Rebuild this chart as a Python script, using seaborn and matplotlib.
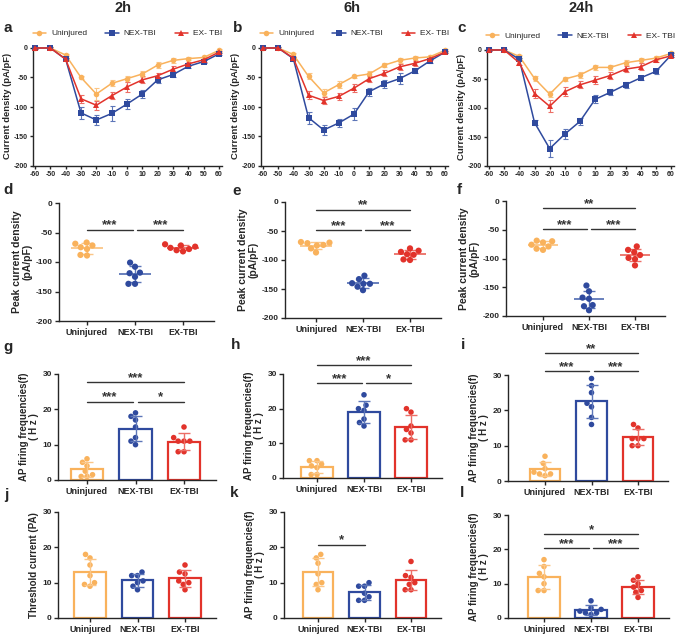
import numpy as np
import pandas as pd
import matplotlib
matplotlib.use("Agg")
import matplotlib.pyplot as plt
from matplotlib.lines import Line2D
import seaborn as sns

# ---------------- data ----------------
groups = ["Uninjured", "NEX-TBI", "EX-TBI"]
legend_labels = ["Uninjured", "NEX-TBI", "EX- TBI"]
col_titles = ["2h", "6h", "24h"]
panel_letters = list("abcdefghijkl")
voltage = [-60, -50, -40, -30, -20, -10, 0, 10, 20, 30, 40, 50, 60]

iv_2h_uninjured = [0, 0, -12, -50, -78, -60, -52, -44, -29, -21, -18, -16, -4]
iv_2h_nex = [0, 0, -19, -110, -122, -111, -95, -78, -54, -45, -31, -23, -10]
iv_2h_ex = [0, 0, -19, -86, -97, -81, -66, -54, -47, -36, -27, -20, -7]
err_2h_uninjured = [1, 1, 2, 3, 10, 5, 5, 5, 5, 4, 3, 3, 2]
err_2h_nex = [1, 1, 2, 10, 8, 12, 8, 6, 5, 4, 3, 3, 2]
err_2h_ex = [1, 1, 2, 7, 8, 6, 8, 6, 5, 6, 4, 3, 2]

iv_6h_uninjured = [0, 0, -11, -48, -76, -62, -48, -44, -29, -21, -17, -15, -4]
iv_6h_nex = [0, 0, -18, -118, -139, -127, -112, -74, -61, -52, -39, -22, -7]
iv_6h_ex = [0, 0, -17, -80, -89, -82, -68, -52, -43, -32, -26, -18, -7]
err_6h_uninjured = [1, 1, 2, 5, 6, 6, 3, 5, 4, 4, 3, 3, 2]
err_6h_nex = [1, 1, 3, 10, 8, 7, 10, 7, 6, 9, 4, 3, 2]
err_6h_ex = [1, 1, 2, 7, 6, 6, 7, 5, 5, 5, 4, 3, 2]

iv_24h_uninjured = [0, 0, -11, -49, -76, -50, -43, -30, -30, -22, -18, -14, -6]
iv_24h_nex = [0, 0, -16, -125, -170, -145, -123, -85, -73, -60, -48, -37, -9]
iv_24h_ex = [0, 0, -22, -75, -97, -72, -60, -52, -44, -33, -29, -17, -10]
err_24h_uninjured = [1, 1, 2, 4, 5, 4, 5, 5, 5, 4, 4, 4, 2]
err_24h_nex = [1, 1, 2, 4, 15, 8, 6, 7, 5, 5, 4, 4, 3]
err_24h_ex = [1, 1, 3, 7, 10, 8, 6, 7, 6, 5, 6, 4, 2]

peak_2h_uninjured = [-67, -69, -72, -75, -78, -88, -89]
peak_2h_nex = [-101, -108, -118, -119, -125, -137, -137]
peak_2h_ex = [-70, -72, -74, -76, -78, -80, -82]
peak_6h_uninjured = [-69, -70, -71, -74, -75, -80, -87]
peak_6h_nex = [-127, -133, -140, -141, -141, -146, -152]
peak_6h_ex = [-80, -84, -86, -90, -91, -99, -100]
peak_24h_uninjured = [-69, -70, -72, -76, -79, -83, -85]
peak_24h_nex = [-147, -157, -168, -170, -181, -183, -190]
peak_24h_ex = [-79, -85, -89, -94, -99, -101, -112]

apf_2h_uninjured = [6, 5, 4, 2.5, 1, 1, 1.5]
apf_2h_nex = [19, 18, 17, 15, 12, 11, 10]
apf_2h_ex = [15, 12, 11, 11, 11, 8, 8]
apf_6h_uninjured = [5, 5, 4, 3.5, 3, 1, 1]
apf_6h_nex = [24, 21, 20, 19.5, 17, 16, 15]
apf_6h_ex = [20, 19, 15, 14, 13, 11, 11]
apf_24h_uninjured = [7, 5, 3.5, 2.5, 2, 2, 1.5]
apf_24h_nex = [29, 27, 25, 22, 21, 18, 16]
apf_24h_ex = [16, 15, 12, 12, 12, 10, 10]

thr_uninjured = [18, 17, 15, 12, 10, 9.5, 9]
thr_nex = [13, 12, 12, 10.5, 10, 9, 8]
thr_ex = [15, 13, 12.5, 10.5, 10, 9.5, 8]

apf2_6h_uninjured = [18, 17, 15.5, 12.5, 10, 9.5, 8]
apf2_6h_nex = [10, 9, 9, 7, 6, 5, 5]
apf2_6h_ex = [16, 12, 11.5, 10, 9.5, 8, 8]
apf2_24h_uninjured = [17, 15, 13, 12, 10, 8, 8]
apf2_24h_nex = [5, 3, 2.5, 2, 1.5, 1.5, 1]
apf2_24h_ex = [12, 11, 10, 9, 8, 7.5, 6]

# significance: (x_start, x_end, height, label)
sig_d = [(0, 0.95, -45, "***"), (1.05, 2, -45, "***")]
sig_e = [(0, 2, -13, "**"), (0, 0.95, -49, "***"), (1.05, 2, -49, "***")]
sig_f = [(0, 2, -13, "**"), (0, 0.95, -49, "***"), (1.05, 2, -49, "***")]
sig_g = [(0, 2, 27.6, "***"), (0, 0.95, 22.2, "***"), (1.05, 2, 22.2, "*")]
sig_h = [(0, 2, 32.6, "***"), (0, 0.95, 27.5, "***"), (1.05, 2, 27.5, "*")]
sig_i = [(0, 2, 36.3, "**"), (0, 0.95, 31, "***"), (1.05, 2, 31, "***")]
sig_j = []
sig_k = [(0, 1, 20.8, "*")]
sig_l = [(0, 2, 24.5, "*"), (0, 0.95, 20.3, "***"), (1.05, 2, 20.3, "***")]

# ---------------- style ----------------
sns.set_theme(style="ticks")
plt.rcParams["font.family"] = ["Liberation Sans", "DejaVu Sans"]
plt.rcParams["font.weight"] = "bold"
plt.rcParams["axes.labelweight"] = "bold"
plt.rcParams["axes.linewidth"] = 1.0
plt.rcParams["axes.unicode_minus"] = False

C = {"Uninjured": "#F9B25C", "NEX-TBI": "#2F4A9E", "EX-TBI": "#E2332B"}
CL = {"Uninjured": "#FBC687", "NEX-TBI": "#5D76B8", "EX-TBI": "#EC6E66"}
MK = {"Uninjured": "o", "NEX-TBI": "s", "EX-TBI": "^"}
INK = "#333333"

W, H = 677, 634
fig = plt.figure(figsize=(W / 100, H / 100), dpi=100)


def add_ax(x0, x1, y0, y1):
    return fig.add_axes([x0 / W, 1 - y1 / H, (x1 - x0) / W, (y1 - y0) / H])


def iv_panel(xm60, xp60, y0, ym200, series, errs):
    sx = (xp60 - xm60) / 120
    sy = (ym200 - y0) / 200
    ax = add_ax(xm60 - 1.5 * sx, xp60 + 2 * sx, y0 - 4 * sy, ym200)
    df = pd.DataFrame({
        "V": voltage * 3,
        "I": np.concatenate(series),
        "group": np.repeat(groups, len(voltage)),
    })
    for g, s, e in zip(groups, series, errs):
        ax.errorbar(voltage, s, yerr=e, fmt="none", ecolor=CL[g], elinewidth=0.8,
                    capsize=1.8, capthick=0.8, zorder=1.5, clip_on=False)
    sns.lineplot(data=df, x="V", y="I", hue="group", style="group",
                 hue_order=groups, style_order=groups, palette=C, markers=MK,
                 dashes=False, markersize=4, markeredgewidth=0, linewidth=1.1,
                 errorbar=None, legend=False, ax=ax, zorder=3, clip_on=False)
    ax.set_xlim(-61.5, 62)
    ax.set_ylim(-200, 4)
    ax.set_xticks(voltage)
    ax.set_yticks([0, -50, -100, -150, -200])
    ax.spines["left"].set_bounds(-200, 0)
    sns.despine(ax=ax)
    ax.tick_params(labelsize=5, width=1, length=2.5, pad=1.2)
    ax.set_xlabel("")
    ax.set_ylabel("Current density (pA/pF)", fontsize=6.8, labelpad=1)
    handles = [Line2D([], [], color=C[g], marker=MK[g], markersize=4,
                      markeredgewidth=0, lw=1.1) for g in groups]
    ax.legend(handles, legend_labels, ncol=3, loc="lower center",
              bbox_to_anchor=(0.5, 1.04), frameon=False,
              prop={"size": 6, "weight": "normal"}, handlelength=1.6,
              columnspacing=2.2, handletextpad=0.6, borderaxespad=0)
    return ax


def cat_axes(spine, cat0, sp, ytop, ybot, xr=2.65):
    xl = -(cat0 - spine) / sp
    ax = add_ax(spine, cat0 + xr * sp, ytop, ybot)
    return ax, (xl, xr)


def brackets(ax, sig):
    for x1, x2, y, lab in sig:
        ax.plot([x1, x2], [y, y], color=INK, lw=1, clip_on=False, zorder=5)
        ax.annotate(lab, xy=((x1 + x2) / 2, y), xytext=(0, -1.5),
                    textcoords="offset points", ha="center", va="bottom",
                    fontsize=9.5, fontweight="bold", color=INK,
                    annotation_clip=False)


def long_df(vals):
    return pd.DataFrame({
        "group": np.repeat(groups, [len(v) for v in vals]),
        "value": np.concatenate(vals),
    })


def finish_cat(ax, xlim, ylim, yticks, ylabel, ylabsize):
    ax.set_xlim(*xlim)
    ax.set_ylim(*ylim)
    ax.set_yticks(yticks)
    sns.despine(ax=ax)
    ax.tick_params(axis="y", labelsize=6, width=1, length=3, pad=1.5)
    ax.tick_params(axis="x", labelsize=6.5, width=1, length=3, pad=2)
    ax.set_xlabel("")
    ax.set_ylabel(ylabel, fontsize=ylabsize, labelpad=2, linespacing=1.1)


def scatter_panel(rect, vals, sig):
    ax, xlim = cat_axes(*rect)
    df = long_df(vals)
    stats = df.groupby("group")["value"].agg(["mean", "std"]).reindex(groups)
    for i, g in enumerate(groups):
        m, s = stats.loc[g, "mean"], stats.loc[g, "std"]
        ax.hlines(m, i - 0.33, i + 0.33, color=CL[g], lw=1.3, zorder=2)
        ax.errorbar(i, m, yerr=s, fmt="none", ecolor=CL[g], elinewidth=1,
                    capsize=4, capthick=1, zorder=2)
    sns.swarmplot(data=df, x="group", y="value", hue="group", order=groups,
                  hue_order=groups, palette=C, size=4.5, legend=False, ax=ax,
                  zorder=3)
    finish_cat(ax, xlim, (-200, 0), [0, -50, -100, -150, -200],
               "Peak current density\n(pA/pF)", 7.5)
    brackets(ax, sig)
    return ax


def bar_panel(rect, vals, sig, ylabel):
    ax, xlim = cat_axes(*rect)
    df = long_df(vals)
    sns.barplot(data=df, x="group", y="value", hue="group", order=groups,
                hue_order=groups, palette=C, fill=False, errorbar=None,
                width=0.66, linewidth=1.6, legend=False, ax=ax)
    stats = df.groupby("group")["value"].agg(["mean", "std"]).reindex(groups)
    for i, g in enumerate(groups):
        m, s = stats.loc[g, "mean"], stats.loc[g, "std"]
        ax.errorbar(i, m, yerr=s, fmt="none", ecolor=CL[g], elinewidth=1,
                    capsize=4.5, capthick=1, zorder=4)
    sns.swarmplot(data=df, x="group", y="value", hue="group", order=groups,
                  hue_order=groups, palette=C, size=4, legend=False, ax=ax,
                  zorder=3)
    finish_cat(ax, xlim, (0, 30), [0, 10, 20, 30], ylabel, 7)
    brackets(ax, sig)
    return ax


# ---------------- row 1: I-V curves ----------------
iv_panel(35, 219, 48, 166, [iv_2h_uninjured, iv_2h_nex, iv_2h_ex],
         [err_2h_uninjured, err_2h_nex, err_2h_ex])
iv_panel(263, 445, 48, 166, [iv_6h_uninjured, iv_6h_nex, iv_6h_ex],
         [err_6h_uninjured, err_6h_nex, err_6h_ex])
iv_panel(489, 671, 50, 166, [iv_24h_uninjured, iv_24h_nex, iv_24h_ex],
         [err_24h_uninjured, err_24h_nex, err_24h_ex])

# ---------------- row 2: peak current density ----------------
scatter_panel((59, 87, 48, 203, 321), [peak_2h_uninjured, peak_2h_nex, peak_2h_ex], sig_d)
scatter_panel((285, 316, 47, 202, 318), [peak_6h_uninjured, peak_6h_nex, peak_6h_ex], sig_e)
scatter_panel((506, 543, 46, 201, 316), [peak_24h_uninjured, peak_24h_nex, peak_24h_ex], sig_f)

# ---------------- row 3: AP firing frequencies ----------------
ap_label = "AP firing frequencies(f)\n( H z )"
bar_panel((58, 87, 48.5, 374, 480), [apf_2h_uninjured, apf_2h_nex, apf_2h_ex], sig_g, ap_label)
bar_panel((283, 317, 47, 374, 478), [apf_6h_uninjured, apf_6h_nex, apf_6h_ex], sig_h, ap_label)
bar_panel((508, 545, 46.5, 375, 481), [apf_24h_uninjured, apf_24h_nex, apf_24h_ex], sig_i, ap_label)

# ---------------- row 4 ----------------
bar_panel((58, 90, 47.5, 512, 618), [thr_uninjured, thr_nex, thr_ex], sig_j,
          "Threshold current (PA)")
bar_panel((284, 318, 46.5, 512, 618), [apf2_6h_uninjured, apf2_6h_nex, apf2_6h_ex], sig_k, ap_label)
bar_panel((508, 544, 47, 515, 618), [apf2_24h_uninjured, apf2_24h_nex, apf2_24h_ex], sig_l, ap_label)

# ---------------- titles & letters ----------------
for t, x in zip(col_titles, [123, 352, 581]):
    fig.text(x / W, 1 - 8 / H, t, ha="center", va="center", fontsize=10.5,
             fontweight="bold")
letter_pos = [(4, 28), (233, 28), (457, 28), (3, 190), (232, 191), (457, 190),
              (3, 347), (231, 345), (461, 345), (4, 495), (230, 493), (460, 493)]
for lab, (x, y) in zip(panel_letters, letter_pos):
    fig.text(x / W, 1 - y / H, lab, ha="left", va="center", fontsize=11,
             fontweight="bold")

fig.savefig("out.png", dpi=100)
